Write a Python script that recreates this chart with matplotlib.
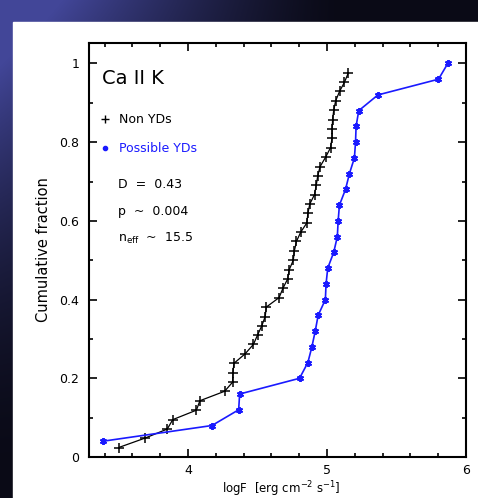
import numpy as np
import matplotlib
matplotlib.use("Agg")
import matplotlib.pyplot as plt
from matplotlib.lines import Line2D
from matplotlib.ticker import MultipleLocator

# Non YDs (black crosses)
non_x = [3.50, 3.69, 3.85, 3.89, 4.06, 4.085, 4.263, 4.32, 4.323, 4.33,
         4.41, 4.47, 4.50, 4.53, 4.555, 4.563, 4.655, 4.683, 4.716, 4.728,
         4.757, 4.765, 4.780, 4.810, 4.855, 4.862, 4.876, 4.91, 4.922, 4.933,
         4.95, 4.99, 5.025, 5.036, 5.037, 5.04, 5.048, 5.062, 5.09, 5.125, 5.153]
non_y = [0.024, 0.048, 0.071, 0.095, 0.119, 0.143, 0.167, 0.190, 0.214, 0.238,
         0.262, 0.286, 0.310, 0.333, 0.357, 0.381, 0.405, 0.429, 0.452, 0.476,
         0.500, 0.524, 0.548, 0.571, 0.595, 0.619, 0.643, 0.667, 0.690, 0.714,
         0.738, 0.762, 0.786, 0.810, 0.833, 0.857, 0.881, 0.905, 0.929, 0.952, 0.976]

# Possible YDs (blue)
yd_x = [3.385, 4.172, 4.364, 4.371, 4.802, 4.862, 4.891, 4.915, 4.936, 4.988,
        4.993, 5.005, 5.048, 5.074, 5.080, 5.089, 5.133, 5.161, 5.197, 5.205,
        5.209, 5.228, 5.366, 5.802, 5.869]
yd_y = [0.04, 0.08, 0.12, 0.16, 0.20, 0.24, 0.28, 0.32, 0.36, 0.40,
        0.44, 0.48, 0.52, 0.56, 0.60, 0.64, 0.68, 0.72, 0.76, 0.80,
        0.84, 0.88, 0.92, 0.96, 1.00]

W, H = 478, 498
fig = plt.figure(figsize=(W / 100, H / 100), dpi=100)

# slide background gradient
bg = fig.add_axes([0, 0, 1, 1])
xx, yy = np.meshgrid(np.arange(W), np.arange(H))
w = np.clip(1 - xx / 340, 0, 1) ** 1.3 * np.clip(1 - yy / 480, 0, 1) ** 1.8
w = np.clip(w * 1.3, 0, 1)
dark = np.array([10, 10, 22]) / 255
blue = np.array([66, 70, 152]) / 255
img = dark[None, None, :] * (1 - w[..., None]) + blue[None, None, :] * w[..., None]
bg.imshow(img, aspect="auto", extent=[0, W, H, 0])
bg.add_patch(plt.Rectangle((13, 22), W - 13, H - 22, color="white"))
bg.set_xlim(0, W)
bg.set_ylim(H, 0)
bg.axis("off")

blue_c = "#1a1aff"
ax = fig.add_axes([89 / W, (H - 457) / H, (466 - 89) / W, (457 - 43) / H])
ax.plot(non_x, non_y, color="black", lw=0.9, marker="+", ms=7, mew=1.1)
ax.plot(yd_x, yd_y, color=blue_c, lw=1.2, marker=(6, 2, 0), ms=5, mew=1.4)

ax.set_xlim(3.287, 6.0)
ax.set_ylim(0, 1.052)
ax.xaxis.set_minor_locator(MultipleLocator(0.2))
ax.yaxis.set_minor_locator(MultipleLocator(0.1))
ax.set_xticks([4, 5, 6])
ax.set_xticklabels(["4", "5", "6"])
ax.set_yticks([0, 0.2, 0.4, 0.6, 0.8, 1.0])
ax.set_yticklabels(["0", "0.2", "0.4", "0.6", "0.8", "1"])
ax.tick_params(which="both", direction="in", top=True, right=True, width=1.2,
               labelsize=9)
ax.tick_params(which="major", length=6, pad=7)
ax.tick_params(axis="x", which="major", pad=5)
ax.tick_params(which="minor", length=3)
for s in ax.spines.values():
    s.set_linewidth(1.5)

ax.set_ylabel("Cumulative fraction", fontsize=10.5, labelpad=6)
fig.text(281 / W, 1 - 489 / H, r"logF  [erg cm$^{-2}$ s$^{-1}$]", fontsize=8.5,
         ha="center", va="center")

ax.text(0.035, 0.915, "Ca II K", transform=ax.transAxes, fontsize=14, va="center")
handles = [Line2D([], [], color="black", marker="+", ls="none", ms=6),
           Line2D([], [], color=blue_c, marker="o", ls="none", ms=3)]
leg = ax.legend(handles, ["Non YDs", "Possible YDs"], loc="upper left",
                bbox_to_anchor=(0.01, 0.848), frameon=False, fontsize=9,
                handlelength=0.8, handletextpad=0.7, labelspacing=1.25,
                borderaxespad=0.2)
leg.get_texts()[1].set_color(blue_c)
ax.text(0.078, 0.659, "D  =  0.43", transform=ax.transAxes, fontsize=9, va="center")
ax.text(0.078, 0.592, "p  ~  0.004", transform=ax.transAxes, fontsize=9, va="center")
ax.text(0.078, 0.527, r"n$_{\rm eff}$  ~  15.5", transform=ax.transAxes, fontsize=9,
        va="center")

fig.savefig("out.png", dpi=100)
